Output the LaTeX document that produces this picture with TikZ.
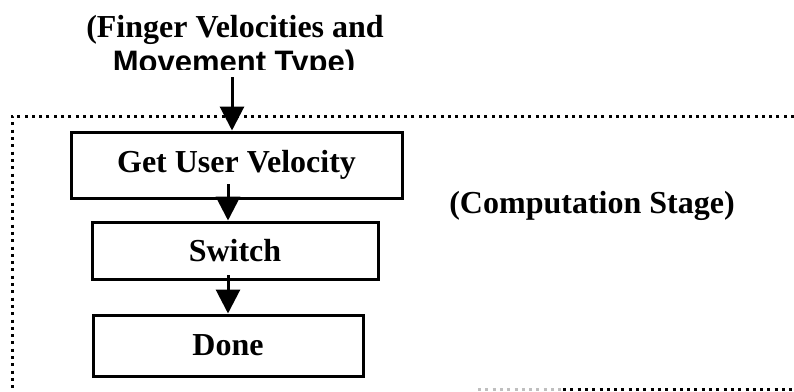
\documentclass[tikz,border=0pt]{standalone}
\usepackage{fontspec}
\setmainfont{Liberation Serif}
\newfontfamily\labelsans{Liberation Sans}
\usetikzlibrary{arrows.meta}

\tikzset{
  stagebox/.style={draw, line width=3pt, inner sep=0pt, font=\fontsize{32}{38}\selectfont\bfseries},
  labeltext/.style={inner sep=0pt, font=\fontsize{32}{38}\selectfont\bfseries},
  flow/.style={line width=3pt, -{Triangle[width=24pt,length=24pt]}},
  frameline/.style={line width=3pt, dash pattern=on 3pt off 4.3pt}
}

\begin{document}
\begin{tikzpicture}[x=1pt, y=-1pt]
  \useasboundingbox (0,0) rectangle (794,391);

  % incoming data label; the second line is cut off at its baseline
  \node[labeltext, anchor=base] (title1) at (235,37) {(Finger Velocities and};
  \begin{scope}
    \clip (0,0) rectangle (794,69);
    \node[labeltext, font=\fontsize{31}{38}\selectfont\bfseries\labelsans, anchor=base] (title2) at (234,72) {Movement Type)};
  \end{scope}

  % dotted stage boundary
  \draw[frameline] (794,116) -- (12,116) -- (12,391);
  \draw[frameline, black!25] (478,389) -- (563,389);
  \draw[frameline] (563,389) -- (794,389);

  % processing steps
  \node[stagebox, minimum width=331pt, minimum height=66pt] (velo) at (236.5,165) {Get User Velocity};
  \node[stagebox, minimum width=286pt, minimum height=57pt] (switch) at (235,250.5) {Switch};
  \node[stagebox, minimum width=270pt, minimum height=61pt] (done) at (228,345.5) {Done};

  \node[labeltext, anchor=base] (stage) at (592,213) {(Computation Stage)};

  % flow arrows
  \coordinate (in) at (232,77);
  \coordinate (veloout) at (228,184);
  \coordinate (switchout) at (228,275);
  \draw[flow] (in) -- (in |- velo.north);
  \draw[flow] (veloout) -- (veloout |- switch.north);
  \draw[flow] (switchout) -- (switchout |- done.north);
\end{tikzpicture}
\end{document}
